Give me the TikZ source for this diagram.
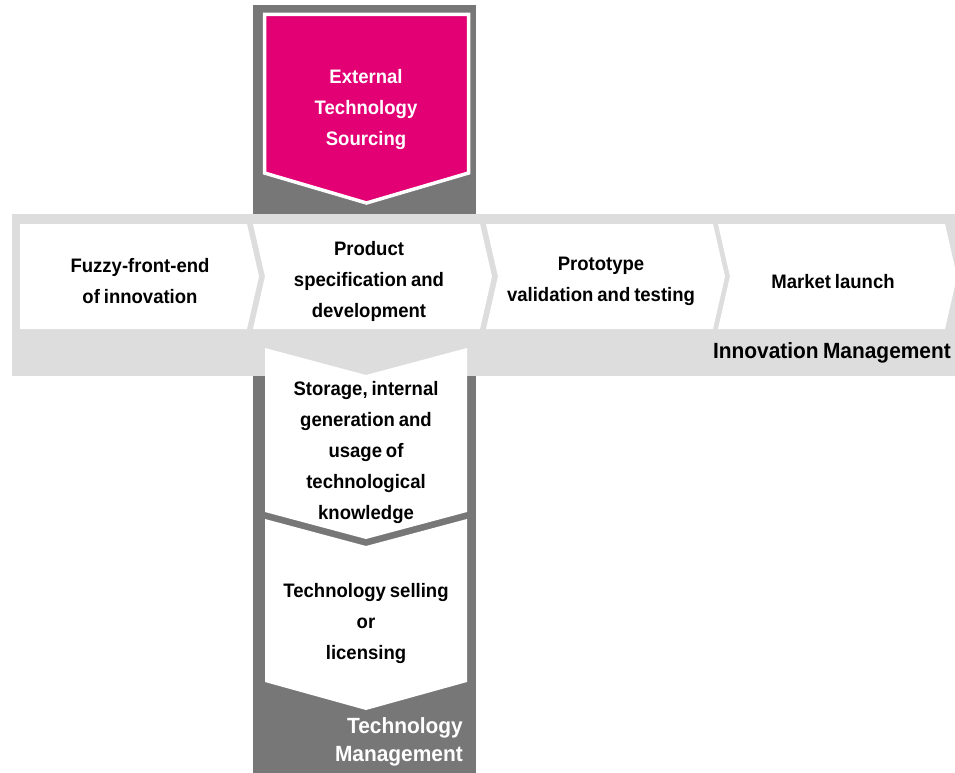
\documentclass[tikz,border=0pt]{standalone}
\usepackage{fontspec}
\setmainfont{Liberation Sans}[FakeStretch=0.95]
\definecolor{tgray}{HTML}{777777}
\definecolor{lgray}{HTML}{DDDDDD}
\definecolor{tmag}{HTML}{E20074}
\newcommand\tightspace{\spaceskip=0.2em plus 0.05em\relax}
\begin{document}
\begin{tikzpicture}[x=1pt,y=-1pt,
  lbl/.style={font=\fontsize{19.5}{31}\selectfont\bfseries, align=center, inner sep=0pt, execute at begin node=\tightspace},
  big/.style={font=\fontsize{22}{28}\selectfont\bfseries, inner sep=0pt, execute at begin node=\tightspace},
  chev/.style={fill=white}]
\useasboundingbox (0,0) rectangle (955,773);
% technology management column
\fill[tgray] (253,5) rectangle (476,773);
% external sourcing pentagon
\filldraw[fill=tmag, draw=white, line width=3.5pt, line join=miter]
  (264.5,14.5) -- (468.5,14.5) -- (468.5,173) -- (366.5,203) -- (264.5,173) -- cycle;
% innovation management band
\fill[lgray] (12,214) rectangle (955,376);
% chevrons
\fill[chev] (20,224) -- (247,224) -- (259,276.5) -- (247,329) -- (20,329) -- cycle;
\foreach \l in {253,486,718}
  \fill[chev] (\l,224) -- (\l+227,224) -- (\l+239,276.5) -- (\l+227,329) -- (\l,329) -- (\l+12,276.5) -- cycle;
% vertical white arrows
\fill[chev] (265,348) -- (366,375) -- (467,348) -- (467,512) -- (366,539) -- (265,512) -- cycle;
\fill[chev] (265,519) -- (366,546) -- (467,519) -- (467,682) -- (366,710) -- (265,682) -- cycle;
% texts
\node[lbl, text=white] (ets) at (366,110) {External\\Technology\\Sourcing};
\node[lbl] (fuzzy) at (140,281.5) {Fuzzy-front-end\\of innovation};
\node[lbl] (prod) at (369,281.5) {Product\\specification and\\development};
\node[lbl] (proto) at (601,281.5) {Prototype\\validation and testing};
\node[lbl] (market) at (833,281.5) {Market launch};
\node[big, anchor=east] (im) at (951,353) {Innovation Management};
\node[lbl] (storage) at (366,452.5) {Storage, internal\\generation and\\usage of\\technological\\knowledge};
\node[lbl] (sell) at (366,623) {Technology selling\\or\\licensing};
\node[big, text=white, align=right, anchor=east] (tm) at (463,742) {Technology\\Management};
\end{tikzpicture}
\end{document}
